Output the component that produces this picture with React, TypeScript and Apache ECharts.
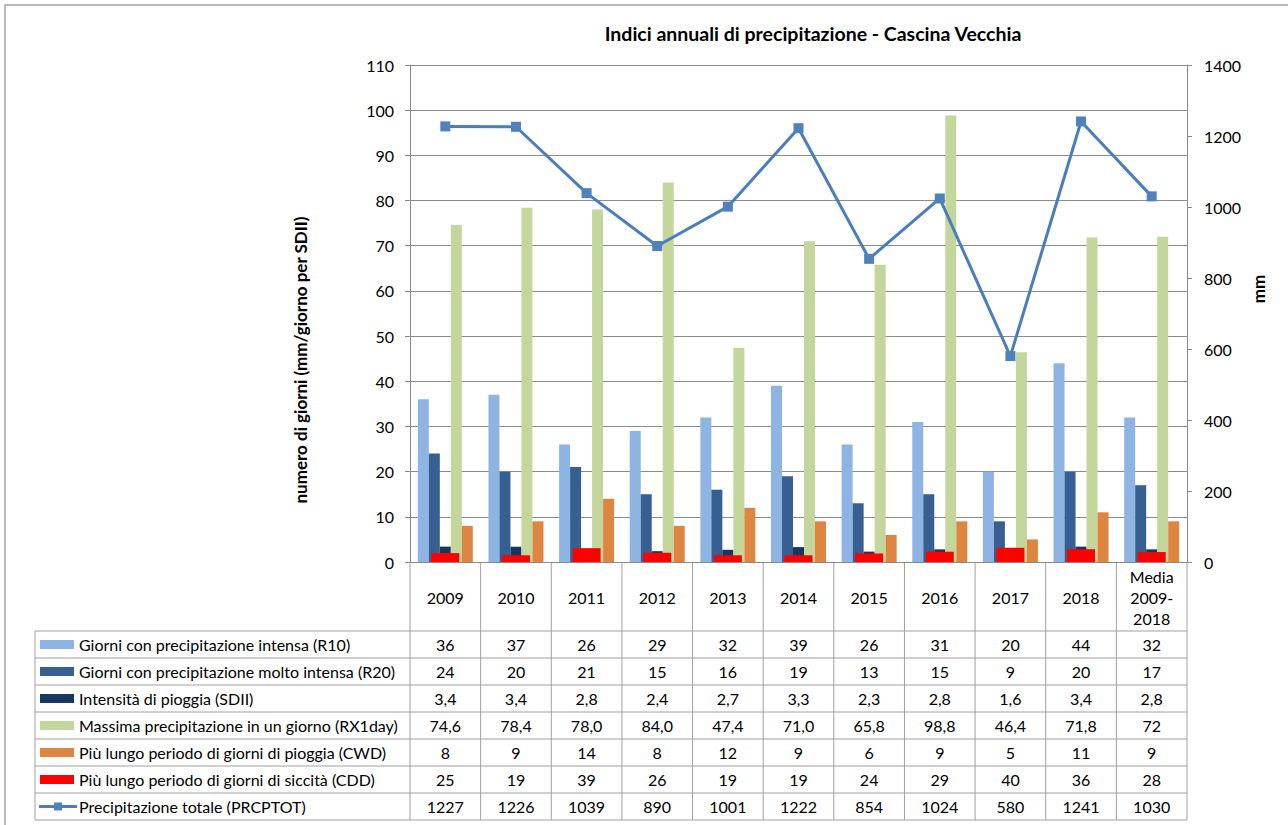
import React, { useEffect, useRef } from "react";
import * as echarts from "echarts";

const categories = ["2009", "2010", "2011", "2012", "2013", "2014", "2015", "2016", "2017", "2018", "Media\n2009-\n2018"];
const r10 = [36, 37, 26, 29, 32, 39, 26, 31, 20, 44, 32];
const r20 = [24, 20, 21, 15, 16, 19, 13, 15, 9, 20, 17];
const sdii = [3.4, 3.4, 2.8, 2.4, 2.7, 3.3, 2.3, 2.8, 1.6, 3.4, 2.8];
const rx1day = [74.6, 78.4, 78.0, 84.0, 47.4, 71.0, 65.8, 98.8, 46.4, 71.8, 72];
const cwd = [8, 9, 14, 8, 12, 9, 6, 9, 5, 11, 9];
const cdd = [25, 19, 39, 26, 19, 19, 24, 29, 40, 36, 28];
const prcptot = [1227, 1226, 1039, 890, 1001, 1222, 854, 1024, 580, 1241, 1030];

const seriesNames = [
  "Giorni con precipitazione intensa (R10)",
  "Giorni con precipitazione molto intensa (R20)",
  "Intensità di pioggia (SDII)",
  "Massima precipitazione in un giorno (RX1day)",
  "Più lungo periodo di giorni di pioggia (CWD)",
  "Più lungo periodo di giorni di siccità (CDD)",
  "Precipitazione totale (PRCPTOT)",
];
const colors = ["#8EB4E3", "#376092", "#17375E", "#C3D69B", "#DE8641", "#FF0000", "#4A7EBB"];

const TITLE = "Indici annuali di precipitazione - Cascina Vecchia";
const LEFT_NAME = "numero di giorni (mm/giorno per SDII)";
const RIGHT_NAME = "mm";

const FONT = "Lato, 'Liberation Sans', sans-serif";

const W = 1288;
const H = 825;
const PLOT_LEFT = 410;
const PLOT_RIGHT = 1187;
const PLOT_TOP = 65;
const PLOT_BOTTOM = 562;
const TABLE_LEFT = 35;
const TABLE_TOP = 631;
const ROW_H = 27;
const LINE_COLOR = "#A0A0A0";
const FS = 16;

const comma = (v: number, d: number) => v.toFixed(d).replace(".", ",");

export default function App() {
  const ref = useRef<HTMLDivElement>(null);

  useEffect(() => {
    if (!ref.current) return;
    const chart = echarts.init(ref.current, undefined, { renderer: "svg" });
    const n = categories.length;
    const colW = (PLOT_RIGHT - PLOT_LEFT) / n;

    const rows = [
      { name: seriesNames[0], labels: r10.map(String), color: colors[0], kind: "bar" },
      { name: seriesNames[1], labels: r20.map(String), color: colors[1], kind: "bar" },
      { name: seriesNames[2], labels: sdii.map((v) => comma(v, 1)), color: colors[2], kind: "bar" },
      {
        name: seriesNames[3],
        labels: rx1day.map((v, i) => (i === n - 1 ? String(v) : comma(v, 1))),
        color: colors[3],
        kind: "bar",
      },
      { name: seriesNames[4], labels: cwd.map(String), color: colors[4], kind: "bar" },
      { name: seriesNames[5], labels: cdd.map(String), color: colors[5], kind: "bar" },
      { name: seriesNames[6], labels: prcptot.map(String), color: colors[6], kind: "line" },
    ];
    const tableBottom = TABLE_TOP + ROW_H * rows.length;

    const txt = (x: number, y: number, text: string, font: string, align: string, rotation = 0) => ({
      type: "text",
      silent: true,
      x,
      y,
      rotation,
      style: {
        text,
        font,
        fill: "#000",
        textAlign: align,
        align,
        verticalAlign: "middle",
        textVerticalAlign: "middle",
      },
    });

    const graphics: any[] = [];
    graphics.push({
      type: "rect",
      silent: true,
      shape: { x: 5, y: 5, width: 1400, height: 900 },
      style: { fill: "none", stroke: "#A6A6A6", lineWidth: 1.5 },
    });
    graphics.push(txt(813, 33, TITLE, `bold 19.5px ${FONT}`, "center"));
    graphics.push(txt(300, 360, LEFT_NAME, `bold 17px ${FONT}`, "center", Math.PI / 2));
    graphics.push(txt(1258, 289, RIGHT_NAME, `bold 17px ${FONT}`, "center", Math.PI / 2));

    for (let r = 0; r <= rows.length; r++) {
      const y = TABLE_TOP + r * ROW_H;
      graphics.push({
        type: "line",
        silent: true,
        shape: { x1: TABLE_LEFT, y1: y, x2: PLOT_RIGHT, y2: y },
        style: { stroke: LINE_COLOR, lineWidth: 1 },
      });
    }
    graphics.push({
      type: "line",
      silent: true,
      shape: { x1: TABLE_LEFT, y1: TABLE_TOP, x2: TABLE_LEFT, y2: tableBottom },
      style: { stroke: LINE_COLOR, lineWidth: 1 },
    });
    for (let c = 0; c <= n; c++) {
      const x = PLOT_LEFT + c * colW;
      graphics.push({
        type: "line",
        silent: true,
        shape: { x1: x, y1: PLOT_BOTTOM, x2: x, y2: tableBottom },
        style: { stroke: LINE_COLOR, lineWidth: 1 },
      });
    }
    rows.forEach((row, r) => {
      const cy = TABLE_TOP + ROW_H * (r + 0.5);
      if (row.kind === "bar") {
        graphics.push({
          type: "rect",
          silent: true,
          shape: { x: 40, y: cy - 4.5, width: 34, height: 9 },
          style: { fill: row.color },
        });
      } else {
        graphics.push({
          type: "line",
          silent: true,
          shape: { x1: 39, y1: cy, x2: 77, y2: cy },
          style: { stroke: row.color, lineWidth: 3 },
        });
        graphics.push({
          type: "rect",
          silent: true,
          shape: { x: 54, y: cy - 4, width: 8, height: 8 },
          style: { fill: "#4F81BD" },
        });
      }
      graphics.push(txt(79, cy, row.name, `${FS}px ${FONT}`, "left"));
      row.labels.forEach((lab, c) => {
        graphics.push(txt(PLOT_LEFT + colW * (c + 0.5), cy, lab, `${FS}px ${FONT}`, "center"));
      });
    });

    const barSeries = [r10, r20, sdii, rx1day, cwd].map((data, i) => ({
      name: seriesNames[i],
      type: "bar",
      xAxisIndex: 0,
      yAxisIndex: 0,
      barWidth: 11,
      barGap: "0%",
      data,
      itemStyle: { color: colors[i] },
    }));

    const option: any = {
      animation: false,
      textStyle: { fontFamily: FONT },
      grid: {
        left: PLOT_LEFT,
        right: W - PLOT_RIGHT,
        top: PLOT_TOP,
        bottom: H - PLOT_BOTTOM,
        containLabel: false,
      },
      xAxis: [
        {
          type: "category",
          data: categories,
          axisLine: { show: true, lineStyle: { color: "#888888", width: 1 } },
          axisTick: { show: false },
          axisLabel: {
            color: "#000",
            fontSize: FS,
            lineHeight: 21,
            margin: 35,
            verticalAlign: "middle",
            interval: 0,
          },
        },
        {
          type: "category",
          data: categories,
          show: false,
          position: "bottom",
        },
      ],
      yAxis: [
        {
          type: "value",
          min: 0,
          max: 110,
          interval: 10,
          axisLine: { show: true, lineStyle: { color: "#888888", width: 1 } },
          axisTick: { show: true, length: 5, lineStyle: { color: "#888888" } },
          axisLabel: { color: "#000", fontSize: FS, margin: 16 },
          splitLine: { show: true, lineStyle: { color: "#8C8C8C", width: 1 } },
        },
        {
          type: "value",
          min: 0,
          max: 1400,
          interval: 200,
          position: "right",
          axisLine: { show: true, lineStyle: { color: "#888888", width: 1 } },
          axisTick: { show: true, length: 5, lineStyle: { color: "#888888" } },
          axisLabel: { color: "#000", fontSize: FS, margin: 17, formatter: (v: number) => String(v) },
          splitLine: { show: false },
        },
      ],
      series: [
        ...barSeries,
        {
          name: seriesNames[5],
          type: "bar",
          xAxisIndex: 1,
          yAxisIndex: 1,
          barWidth: 28,
          data: cdd,
          itemStyle: { color: colors[5] },
        },
        {
          name: seriesNames[6],
          type: "line",
          xAxisIndex: 0,
          yAxisIndex: 1,
          data: prcptot,
          symbol: "rect",
          symbolSize: 10,
          lineStyle: { color: colors[6], width: 3 },
          itemStyle: { color: "#4F81BD" },
          z: 5,
        },
      ],
      graphic: graphics,
    };
    chart.setOption(option);
    return () => chart.dispose();
  }, []);

  return (
    <div
      ref={ref}
      style={{ position: "fixed", left: 0, top: 0, width: W, height: H, background: "#fff" }}
    />
  );
}
